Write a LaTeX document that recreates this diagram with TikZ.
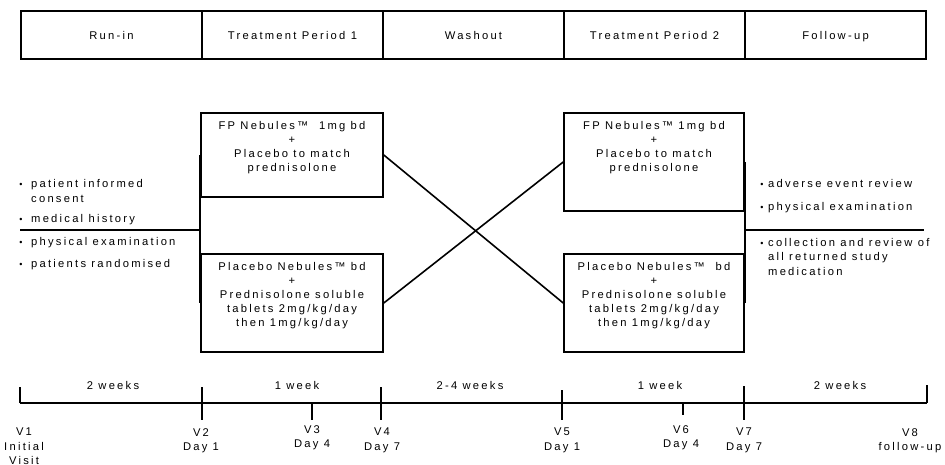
\documentclass[tikz,border=0pt]{standalone}
\usepackage{fontspec}
\setmainfont{Liberation Sans}[LetterSpace=20]
\begin{document}
\begin{tikzpicture}[x=1pt,y=-1pt,
  every node/.style={font=\fontsize{11.2}{14}\selectfont, inner sep=0pt},
  ln/.style={line width=1.6pt},
  hdr/.style={draw, line width=1.6pt, minimum width=181pt, minimum height=48pt, text height=8pt, text depth=0pt},
  arm/.style={draw, line width=1.6pt},
  btxt/.style={align=center, anchor=north},
  lbl/.style={anchor=base},
  bul/.style={anchor=base, font=\fontsize{9}{9}\selectfont},
  btx/.style={anchor=base west},
  vlab/.style={align=center, anchor=north, font=\fontsize{11.2}{14.5}\selectfont}
]
\useasboundingbox (0,0) rectangle (945,464);

% header
\node[hdr] (h1) at (111.5,35) {Run-in};
\node[hdr] (h2) at (292.5,35) {Treatment Period 1};
\node[hdr] (h3) at (473.5,35) {Washout};
\node[hdr] (h4) at (654.5,35) {Treatment Period 2};
\node[hdr] (h5) at (835.5,35) {Follow-up};

% arm boxes
\node[arm, minimum width=182pt, minimum height=84pt] (fp1) at (292,155) {};
\node[arm, minimum width=182pt, minimum height=98pt] (pl1) at (292,303) {};
\node[arm, minimum width=180pt, minimum height=98pt] (fp2) at (654,162) {};
\node[arm, minimum width=180pt, minimum height=98pt] (pl2) at (654,303) {};

\node[btxt] (fp1t) at ([yshift=-9pt]fp1.north) {FP Nebules™\ \ 1mg bd\\+\\Placebo to match\\prednisolone};
\node[btxt] (pl1t) at ([yshift=-8.5pt]pl1.north) {Placebo Nebules™ bd\\+\\Prednisolone soluble\\tablets 2mg/kg/day\\then 1mg/kg/day};
\node[btxt] (fp2t) at ([yshift=-9pt]fp2.north) {FP Nebules™ 1mg bd\\+\\Placebo to match\\prednisolone};
\node[btxt] (pl2t) at ([yshift=-8.5pt]pl2.north) {Placebo Nebules™\ \ bd\\+\\Prednisolone soluble\\tablets 2mg/kg/day\\then 1mg/kg/day};

% connectors
\coordinate (la) at (20,230);
\coordinate (lb) at (201,230);
\coordinate (ra) at (744,230);
\coordinate (rb) at (924,230);
\draw[ln] (fp1.west) -- (pl1.west);
\draw[ln] (fp2.east) -- (pl2.east);
\draw[ln] (la) -- (lb);
\draw[ln] (ra) -- (rb);
\draw[ln] (fp1.east) -- (pl2.west);
\draw[ln] (pl1.east) -- (fp2.west);

% left bullets
\node[bul] (lb1) at (21,187) {•};
\node[btx] (lt1) at (31,187) {patient informed};
\node[btx] (lt1b) at (31,202) {consent};
\node[bul] (lb2) at (21,222) {•};
\node[btx] (lt2) at (31,222) {medical history};
\node[bul] (lb3) at (21,245) {•};
\node[btx] (lt3) at (31,245) {physical examination};
\node[bul] (lb4) at (21,267) {•};
\node[btx] (lt4) at (31,267) {patients randomised};

% right bullets
\node[bul] (rb1) at (762,187) {•};
\node[btx] (rt1) at (768,187) {adverse event review};
\node[bul] (rb2) at (762,210) {•};
\node[btx] (rt2) at (768,210) {physical examination};
\node[bul] (rb3) at (762,246) {•};
\node[btx] (rt3) at (768,246) {collection and review of};
\node[btx] (rt3b) at (768,260) {all returned study};
\node[btx] (rt3c) at (768,275) {medication};

% timeline
\coordinate (v1) at (20,403);
\coordinate (v2) at (202,403);
\coordinate (v3) at (312,403);
\coordinate (v4) at (381,403);
\coordinate (v5) at (562,403);
\coordinate (v6) at (683,403);
\coordinate (v7) at (744,403);
\coordinate (v8) at (927,403);
\draw[ln] (v1) -- (v8);
\draw[ln] (v1) -- ++(0,-16);
\draw[ln] (v2) ++(0,-16) -- ++(0,33);
\draw[ln] (v3) -- ++(0,17);
\draw[ln] (v4) ++(0,-16) -- ++(0,33);
\draw[ln] (v5) ++(0,-13) -- ++(0,30);
\draw[ln] (v6) -- ++(0,12);
\draw[ln] (v7) ++(0,-17) -- ++(0,34);
\draw[ln] (v8) -- ++(0,-18);

\node[lbl] (d1) at (113,389) {2 weeks};
\node[lbl] (d2) at (297,389) {1 week};
\node[lbl] (d3) at (470,389) {2-4 weeks};
\node[lbl] (d4) at (660,389) {1 week};
\node[lbl] (d5) at (840,389) {2 weeks};

\node[vlab] (l1) at (24,428) {V1\\Initial\\Visit};
\node[vlab] (l2) at (201,428) {V2\\Day 1};
\node[vlab] (l3) at (312,425) {V3\\Day 4};
\node[vlab] (l4) at (382,428) {V4\\Day 7};
\node[vlab] (l5) at (562,428) {V5\\Day 1};
\node[vlab] (l6) at (681,425) {V6\\Day 4};
\node[vlab] (l7) at (744,428) {V7\\Day 7};
\node[vlab] (l8) at (910,428) {V8\\follow-up};
\end{tikzpicture}
\end{document}
